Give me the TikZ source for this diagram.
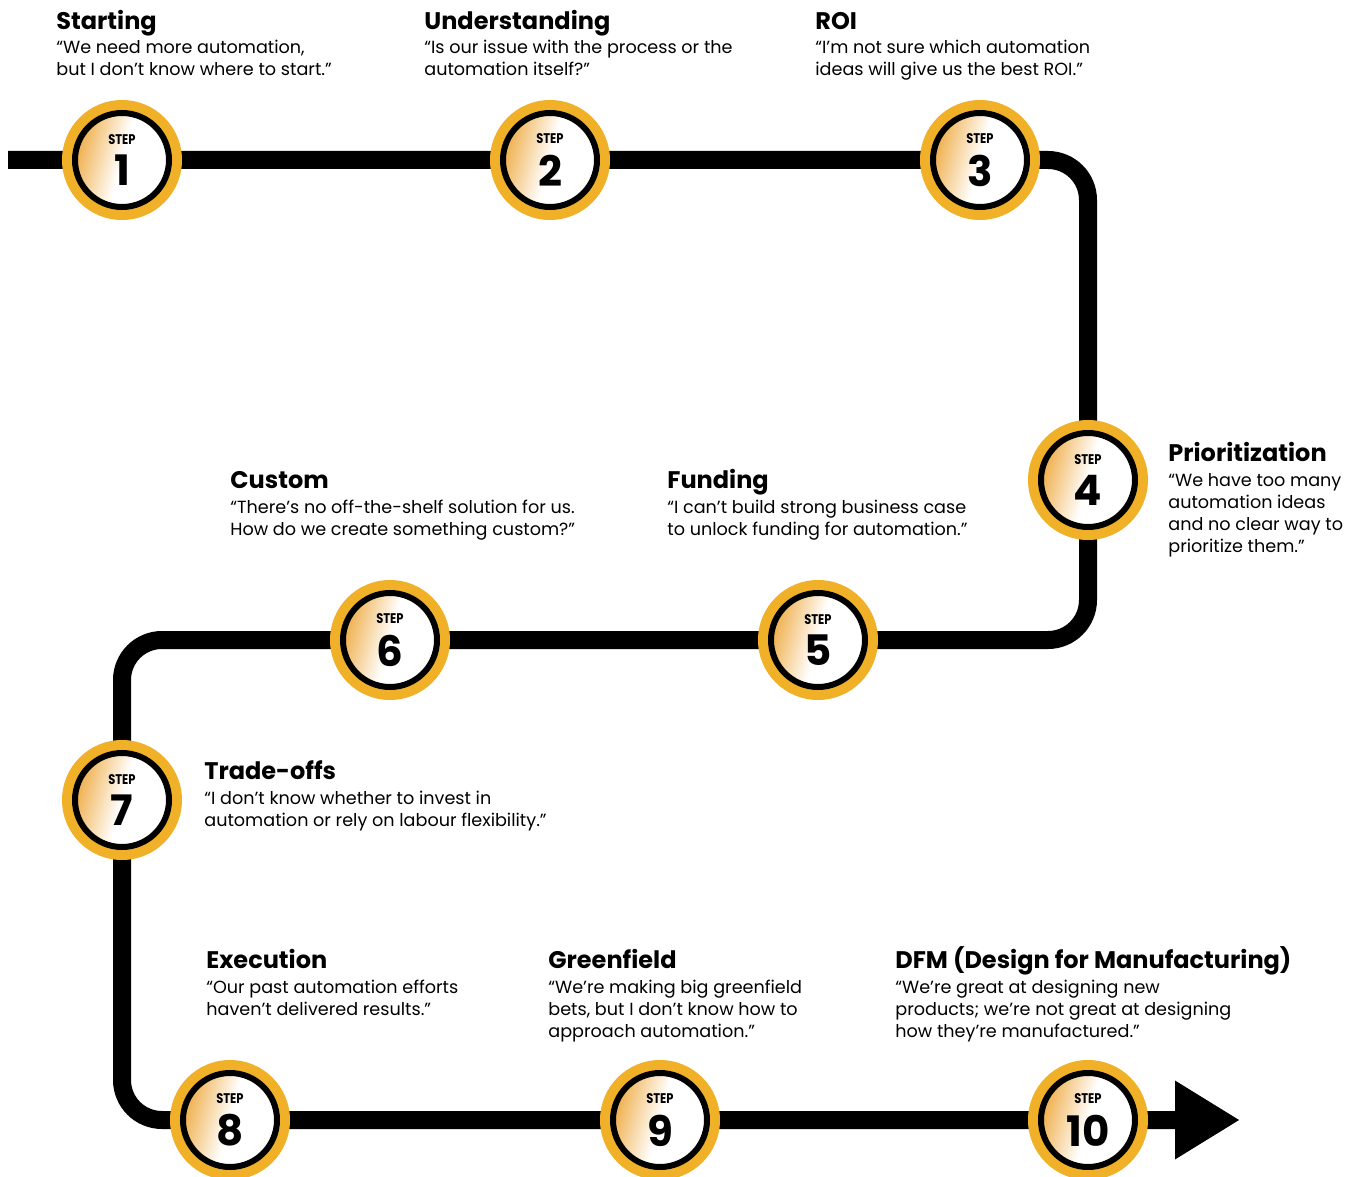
\documentclass[tikz,border=0pt]{standalone}
\usepackage{fontspec}
\setmainfont{Poppins}
\usepackage{tikz}
\usetikzlibrary{arrows.meta,backgrounds}
\definecolor{ringyellow}{RGB}{240,176,40}
\definecolor{fadeorange}{RGB}{236,158,38}
\pgfdeclarehorizontalshading{stepfade}{100bp}{color(0bp)=(fadeorange); color(25bp)=(fadeorange); color(30bp)=(fadeorange!85!white); color(50bp)=(white); color(100bp)=(white)}
\newcommand{\steptext}[1]{\scalebox{.82}[1]{\fontsize{7}{7}\selectfont\bfseries STEP}\\[4.5pt]{\fontsize{21}{21}\selectfont\bfseries #1}}
\newcommand{\steptitle}[1]{{\fontsize{12}{12}\selectfont\bfseries #1}\\[1.5pt]}
\tikzset{
  track/.style={line width=9pt, rounded corners=20pt},
  stepcircle/.style={circle, fill=ringyellow, minimum size=60pt, inner sep=0pt, align=center,
    path picture={\draw[line width=3pt, shading=stepfade, shading angle=-15]
      (path picture bounding box.center) circle (23.5pt);}},
  steplabel/.style={anchor=base west, align=left, inner sep=0pt, font=\fontsize{8.8}{11}\selectfont},
}

\begin{document}
\begin{tikzpicture}[x=0.5pt,y=-0.5pt]
            \useasboundingbox (0,0) rectangle (1362,1177);
            \node[stepcircle] (s1) at (122,160) {\steptext{1}};
            \node[stepcircle] (s2) at (550,160) {\steptext{2}};
            \node[stepcircle] (s3) at (980,160) {\steptext{3}};
            \node[stepcircle] (s4) at (1088,480) {\steptext{4}};
            \node[stepcircle] (s5) at (818,640) {\steptext{5}};
            \node[stepcircle] (s6) at (390,640) {\steptext{6}};
            \node[stepcircle] (s7) at (122,800) {\steptext{7}};
            \node[stepcircle] (s8) at (230,1120) {\steptext{8}};
            \node[stepcircle] (s9) at (660,1120) {\steptext{9}};
            \node[stepcircle] (s10) at (1088,1120) {\steptext{10}};
            \coordinate (start) at (8,160);
            \coordinate (tip) at (1240,1120);
            \begin{scope}[on background layer]
                \draw[track, -{Triangle[length=32.5pt,width=37pt]}] (start) -- (s1.center) -- (s2.center) -- (s3.center)
                    -- (s3.center -| s4.center) -- (s4.center) -- (s4.center |- s5.center) -- (s5.center) -- (s6.center)
                    -- (s6.center -| s7.center) -- (s7.center) -- (s7.center |- s8.center) -- (s8.center) -- (s9.center)
                    -- (s10.center) -- (tip);
            \end{scope}
            % labels sit on the baseline of their last line
            \node[steplabel] (l1) at (56,76) {\steptitle{Starting}“We need more automation,\\but I don’t know where to start.”};
            \node[steplabel] (l2) at (424,76) {\steptitle{Understanding}“Is our issue with the process or the\\automation itself?”};
            \node[steplabel] (l3) at (815,76) {\steptitle{ROI}“I’m not sure which automation\\ideas will give us the best ROI.”};
            \node[steplabel] (l4) at (1168,552) {\steptitle{Prioritization}“We have too many\\automation ideas\\and no clear way to\\prioritize them.”};
            \node[steplabel] (l5) at (667,535) {\steptitle{Funding}“I can’t build strong business case\\to unlock funding for automation.”};
            \node[steplabel] (l6) at (230,535) {\steptitle{Custom}“There’s no off-the-shelf solution for us.\\How do we create something custom?”};
            \node[steplabel] (l7) at (204,826) {\steptitle{Trade-offs}“I don’t know whether to invest in\\automation or rely on labour flexibility.”};
            \node[steplabel] (l8) at (206,1015) {\steptitle{Execution}“Our past automation efforts\\haven’t delivered results.”};
            \node[steplabel] (l9) at (548,1037) {\steptitle{Greenfield}“We’re making big greenfield\\bets, but I don’t know how to\\approach automation.”};
            \node[steplabel] (l10) at (895,1037) {\steptitle{DFM (Design for Manufacturing)}“We’re great at designing new\\products; we’re not great at designing\\how they’re manufactured.”};
        \end{tikzpicture}
\end{document}
